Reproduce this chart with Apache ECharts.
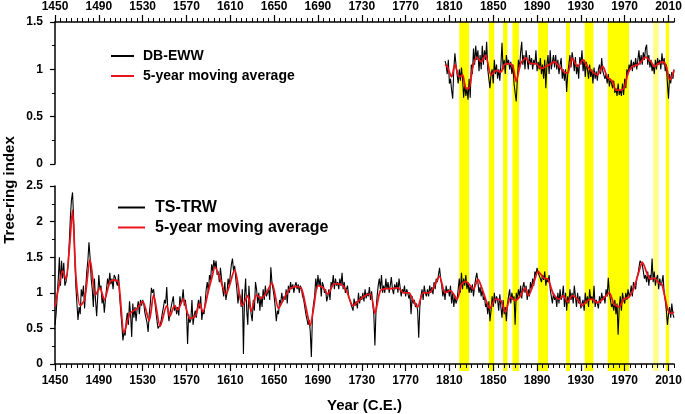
<!DOCTYPE html>
<html>
<head>
<meta charset="utf-8">
<title>Tree-ring index</title>
<script src="https://cdn.jsdelivr.net/npm/echarts@6/dist/echarts.min.js"></script>
<style>
html, body { margin: 0; padding: 0; background: #fff; }
#chart { width: 685px; height: 414px; }
</style>
</head>
<body>
<div id="chart"></div>
<script>
// x axis labels (years)
const labelYears = [1450, 1490, 1530, 1570, 1610, 1650, 1690, 1730, 1770, 1810, 1850, 1890, 1930, 1970, 2010];

// yellow bands (start / end year)
const bandStart = [1819, 1846, 1859, 1867.5, 1891, 1916.5, 1933.5, 1954.5, 1996, 2007.5];
const bandEnd   = [1828, 1851, 1863, 1873.5, 1900, 1920, 1941.5, 1974, 2001, 2010.5];

// DB-EWW, annual, 1806-2015
const ewwStart = 1806;
const ewwValues = [
  1.09, 1.05, 0.95, 1.10, 0.85, 0.90, 0.78, 0.69, 1.00, 1.17,
  1.05, 0.95, 0.85, 1.00, 0.88, 1.02, 0.90, 0.70, 0.85, 0.72,
  0.80, 0.68, 0.90, 0.70, 1.05, 0.95, 1.22, 1.05, 1.25, 1.10,
  1.20, 0.98, 1.15, 1.00, 1.25, 1.05, 1.20, 1.10, 1.29, 1.00,
  0.90, 0.80, 0.95, 1.00, 0.85, 1.10, 0.95, 1.05, 0.90, 1.00,
  0.88, 1.05, 1.28, 1.00, 1.10, 0.95, 1.15, 1.05, 1.10, 1.00,
  1.08, 0.95, 1.05, 0.85, 0.75, 0.66, 0.90, 1.10, 1.00, 1.18,
  1.29, 1.05, 1.15, 1.00, 1.20, 1.10, 1.00, 1.15, 1.05, 1.12,
  1.00, 1.10, 1.05, 1.20, 0.98, 1.08, 1.00, 1.12, 0.95, 1.05,
  0.90, 1.10, 0.80, 1.05, 1.15, 0.95, 1.20, 1.00, 1.08, 1.15,
  1.02, 1.15, 1.00, 1.10, 0.95, 1.05, 1.12, 0.90, 1.00, 0.88,
  1.00, 0.76, 0.95, 1.05, 1.15, 1.02, 1.18, 1.10, 0.98, 1.13,
  0.95, 1.05, 0.90, 1.13, 1.05, 1.20, 0.98, 1.10, 0.92, 1.08,
  1.00, 0.90, 1.05, 0.92, 1.00, 0.85, 1.02, 0.90, 0.98, 0.88,
  1.00, 1.05, 0.95, 1.12, 0.98, 1.00, 0.90, 0.95, 0.85, 0.95,
  0.82, 0.90, 0.85, 0.80, 0.88, 0.75, 0.80, 0.72, 0.85, 0.73,
  0.78, 0.72, 0.85, 0.73, 0.90, 0.80, 1.00, 0.95, 1.05, 1.00,
  1.10, 0.98, 1.08, 1.02, 1.12, 1.00, 1.10, 1.20, 1.05, 1.15,
  1.05, 1.18, 1.10, 1.22, 1.26, 1.05, 1.15, 1.02, 1.10, 0.98,
  1.05, 0.95, 1.10, 1.00, 1.12, 1.05, 1.10, 1.00, 1.17, 1.05,
  1.12, 0.98, 1.05, 0.85, 0.69, 0.95, 0.85, 0.97, 0.90, 1.00
];

// DB-EWW 5-year moving average, read at turning points
const ewwAvgYears = [1806, 1808, 1812, 1815, 1819, 1822, 1825, 1828, 1831, 1835, 1839, 1843, 1848, 1853, 1857, 1860, 1865, 1868, 1871, 1875,
  1880, 1884, 1889, 1894, 1898, 1903, 1906, 1910, 1915, 1918, 1922, 1927, 1932, 1936, 1941, 1945, 1950, 1954, 1959, 1962,
  1967, 1970, 1973, 1977, 1982, 1985, 1989, 1994, 1997, 2001, 2005, 2008, 2011, 2013, 2015];
const ewwAvgValues = [1.05, 1.03, 0.92, 1.05, 0.92, 0.94, 0.80, 0.80, 1.01, 1.13, 1.08, 1.15, 0.94, 0.99, 0.97, 1.05, 1.06, 1.03, 0.87, 1.06,
  1.12, 1.06, 1.06, 1.01, 1.03, 1.06, 1.08, 1.03, 0.97, 0.96, 1.12, 1.03, 1.10, 1.03, 0.97, 0.94, 1.03, 0.92, 0.87, 0.78,
  0.78, 0.82, 0.96, 1.03, 1.05, 1.08, 1.13, 1.08, 1.03, 1.06, 1.08, 1.03, 0.89, 0.92, 0.99];

// TS-TRW, annual, 1450-2015
const trwStart = 1450;
const trwValues = [
  0.55, 0.70, 0.95, 1.20, 1.50, 1.10, 1.45, 1.20, 1.42, 1.10,
  1.15, 1.25, 1.40, 1.70, 2.05, 2.30, 2.41, 2.05, 1.55, 1.10,
  0.85, 0.62, 0.80, 0.70, 1.05, 0.95, 1.10, 0.78, 1.05, 1.30,
  1.45, 1.71, 1.50, 1.20, 1.05, 0.80, 1.20, 0.90, 0.67, 0.95,
  1.25, 1.05, 1.10, 0.85, 0.95, 0.72, 0.90, 1.05, 1.20, 1.10,
  1.28, 1.12, 1.20, 1.05, 1.25, 1.22, 1.15, 1.10, 1.26, 0.95,
  0.75, 0.55, 0.33, 0.45, 0.40, 0.60, 0.72, 0.55, 0.88, 0.70,
  0.38, 0.85, 0.65, 0.80, 0.60, 0.78, 0.88, 0.70, 0.90, 0.82,
  0.90, 0.85, 0.72, 0.65, 0.58, 0.45, 0.70, 0.85, 1.07, 1.00,
  1.05, 0.90, 0.75, 0.62, 0.50, 0.48, 0.55, 0.62, 0.72, 0.80,
  0.90, 0.85, 1.08, 0.75, 0.60, 0.72, 0.70, 0.88, 0.95, 0.75,
  0.82, 0.70, 0.80, 0.68, 0.95, 0.85, 0.90, 1.05, 0.82, 0.90,
  0.75, 0.28, 0.70, 0.58, 0.62, 0.90, 0.55, 0.68, 0.75, 0.65,
  0.80, 0.90, 0.78, 0.95, 0.62, 0.75, 0.70, 0.85, 1.05, 1.15,
  1.00, 1.25, 1.18, 1.40, 1.30, 1.46, 1.35, 1.45, 1.25, 1.30,
  1.15, 1.35, 1.20, 1.05, 0.95, 1.15, 0.90, 1.00, 1.20, 1.10,
  1.25, 1.40, 1.48, 1.30, 1.38, 1.20, 1.05, 0.85, 1.00, 0.95,
  0.80, 1.05, 0.14, 0.95, 1.20, 0.75, 0.55, 1.10, 0.85, 0.70,
  0.60, 0.90, 0.75, 1.15, 1.05, 0.85, 1.00, 0.75, 0.95, 0.80,
  1.05, 0.90, 1.10, 0.95, 1.00, 1.05, 0.90, 1.36, 1.15, 1.05,
  0.95, 0.80, 0.60, 0.75, 0.70, 0.90, 0.85, 1.00, 0.88, 0.95,
  0.90, 1.05, 0.85, 1.10, 1.00, 1.15, 1.05, 1.12, 1.00, 1.10,
  1.15, 1.05, 1.12, 1.00, 1.10, 1.05, 0.95, 0.90, 0.80, 0.70,
  0.72, 0.55, 0.62, 0.45, 0.10, 0.70, 0.85, 0.95, 1.20, 1.05,
  1.25, 1.10, 1.20, 0.95, 1.15, 1.10, 1.00, 1.05, 0.88, 0.95,
  1.05, 0.90, 1.15, 1.10, 1.25, 1.05, 1.20, 1.10, 1.15, 1.05,
  1.20, 1.10, 1.28, 1.05, 1.15, 1.00, 1.05, 1.10, 0.95, 0.90,
  0.85, 0.80, 0.75, 0.92, 0.82, 0.88, 0.78, 1.00, 0.85, 0.95,
  0.90, 1.00, 0.88, 1.05, 0.92, 1.00, 0.95, 1.08, 0.90, 1.02,
  0.85, 0.70, 0.26, 0.75, 0.95, 1.10, 1.20, 1.05, 1.25, 1.00,
  1.10, 1.00, 1.20, 1.05, 1.15, 1.00, 1.10, 1.22, 1.05, 0.98,
  1.12, 1.05, 1.15, 1.00, 1.20, 1.08, 0.95, 1.05, 1.00, 1.10,
  0.95, 1.05, 1.00, 0.92, 0.98, 0.70, 0.95, 0.85, 0.90, 0.80,
  0.85, 0.75, 0.37, 0.80, 0.95, 1.05, 0.90, 1.10, 1.00, 0.95,
  1.05, 0.95, 1.10, 1.00, 1.08, 0.98, 1.15, 1.05, 1.20, 1.15,
  1.25, 1.35, 1.20, 1.10, 0.95, 1.05, 0.90, 1.10, 1.00, 1.05,
  0.95, 1.10, 0.85, 1.00, 0.80, 0.95, 0.85, 0.90, 1.05, 1.20,
  1.00, 1.28, 1.05, 1.20, 1.10, 1.25, 1.05, 1.15, 1.00, 1.10,
  1.00, 1.12, 0.95, 1.10, 1.20, 1.28, 1.15, 1.00, 1.08, 0.95,
  1.05, 0.90, 0.95, 0.80, 0.85, 0.70, 0.88, 0.60, 0.75, 0.95,
  0.80, 1.00, 0.85, 0.95, 0.90, 0.75, 0.98, 0.80, 0.65, 0.90,
  0.70, 0.80, 0.60, 0.85, 0.95, 1.05, 0.85, 1.00, 0.90, 0.95,
  0.55, 1.00, 0.90, 1.05, 0.95, 1.10, 0.92, 1.08, 1.15, 1.00,
  1.10, 0.90, 1.05, 0.95, 1.15, 1.05, 1.20, 1.10, 1.30, 1.25,
  1.35, 1.28, 1.30, 1.20, 1.15, 1.25, 1.18, 1.30, 1.10, 1.20,
  1.15, 1.25, 1.05, 0.95, 0.85, 1.00, 0.90, 0.95, 0.80, 1.00,
  0.85, 1.05, 0.90, 0.95, 1.10, 0.80, 1.00, 0.75, 0.95, 0.85,
  1.05, 0.90, 1.00, 0.85, 1.10, 0.95, 0.80, 1.00, 0.85, 0.95,
  0.78, 0.85, 0.90, 0.75, 1.00, 0.85, 0.95, 0.80, 1.05, 0.90,
  0.95, 0.85, 1.10, 0.80, 0.90, 0.85, 0.78, 0.95, 0.85, 1.00,
  0.90, 0.95, 0.85, 1.05, 0.95, 1.21, 1.00, 0.90, 0.80, 0.85,
  0.75, 0.90, 0.70, 0.85, 0.41, 0.80, 0.95, 0.75, 1.00, 0.90,
  0.85, 1.00, 0.90, 1.05, 0.95, 1.00, 1.10, 0.95, 1.15, 1.10,
  1.05, 1.20, 1.25, 1.35, 1.45, 1.47, 1.40, 1.30, 1.20, 1.25,
  1.15, 1.30, 1.10, 1.25, 1.20, 1.48, 1.15, 1.30, 1.10, 1.20,
  1.25, 1.05, 1.20, 1.10, 1.15, 1.25, 1.00, 0.90, 0.75, 0.55,
  0.70, 0.80, 0.65, 0.85, 0.70, 0.65
];

// TS-TRW 5-year moving average, read at turning points
const trwAvgYears = [1450, 1453, 1457, 1460, 1463, 1466, 1469, 1473, 1477, 1482, 1487, 1491, 1495, 1500, 1504, 1508, 1513, 1518, 1521, 1525,
  1530, 1536, 1540, 1546, 1552, 1555, 1559, 1562, 1567, 1573, 1578, 1582, 1585, 1590, 1593, 1596, 1600, 1606, 1614, 1621,
  1626, 1629, 1634, 1638, 1643, 1648, 1654, 1658, 1664, 1670, 1675, 1679, 1683, 1686, 1690, 1695, 1699, 1705, 1711, 1716,
  1722, 1728, 1733, 1738, 1742, 1747, 1753, 1758, 1763, 1768, 1773, 1777, 1781, 1786, 1791, 1795, 1801, 1806, 1811, 1817,
  1821, 1825, 1828, 1832, 1836, 1840, 1844, 1847, 1852, 1857, 1861, 1866, 1870, 1875, 1879, 1882, 1887, 1891, 1896, 1900,
  1905, 1910, 1914, 1918, 1922, 1927, 1931, 1936, 1940, 1945, 1950, 1956, 1960, 1965, 1969, 1974, 1978, 1983, 1986, 1991,
  1994, 1997, 2001, 2004, 2009, 2012, 2015];
const trwAvgValues = [0.81, 1.05, 1.31, 1.19, 1.60, 2.16, 1.25, 0.82, 0.90, 1.47, 0.97, 1.07, 0.90, 1.15, 1.18, 1.15, 0.44, 0.70, 0.74, 0.78,
  0.88, 0.61, 0.97, 0.53, 0.82, 0.67, 0.82, 0.76, 0.91, 0.64, 0.67, 0.85, 0.73, 1.03, 1.20, 1.36, 1.23, 0.98, 1.32, 0.82,
  0.96, 0.74, 0.97, 0.92, 1.00, 1.14, 0.78, 0.89, 1.05, 1.09, 1.06, 0.80, 0.54, 0.78, 1.10, 1.07, 0.98, 1.13, 1.12, 1.03,
  0.82, 0.90, 0.96, 0.98, 0.71, 1.03, 1.06, 1.06, 1.07, 1.00, 1.00, 0.89, 0.80, 1.00, 1.00, 1.06, 1.23, 1.00, 1.03, 0.91,
  1.12, 1.16, 1.12, 1.05, 1.19, 1.05, 0.87, 0.78, 0.91, 0.89, 0.73, 0.94, 0.89, 0.96, 1.07, 0.96, 1.14, 1.30, 1.21, 1.19,
  0.98, 0.91, 0.96, 0.87, 0.96, 0.91, 0.82, 0.89, 0.91, 0.86, 0.91, 1.00, 0.85, 0.80, 0.91, 0.94, 1.05, 1.30, 1.43, 1.25,
  1.19, 1.21, 1.14, 1.12, 0.78, 0.71, 0.73];

const FONT = '"Liberation Sans", Arial, sans-serif';
const xMin = 1450, xMax = 2015;
const LIGHT_BAND = 8;

const minorYears = [];
for (let y = xMin; y <= xMax; y += 5) minorYears.push(y);

function byYear(start, values) {
  return values.map((v, i) => [start + i, v]);
}
function pairs(xs, ys) {
  return xs.map((x, i) => [x, ys[i]]);
}

const labelStyle = { color: '#000', fontWeight: 'bold', fontSize: 12, fontFamily: FONT };

function xAxisMain(gridIndex, position, margin) {
  return {
    type: 'value', gridIndex: gridIndex, position: position, min: xMin, max: xMax,
    axisLine: { show: true, onZero: false, lineStyle: { color: '#000', width: 1.5 } },
    axisTick: { show: true, customValues: minorYears, length: 4, lineStyle: { color: '#000', width: 1 } },
    axisLabel: Object.assign({ customValues: labelYears, margin: margin, formatter: v => String(v) }, labelStyle),
    splitLine: { show: false }
  };
}
function xAxisMajor(gridIndex, position) {
  return {
    type: 'value', gridIndex: gridIndex, position: position, min: xMin, max: xMax,
    axisLine: { show: false, onZero: false },
    axisTick: { show: true, customValues: labelYears, length: 7, lineStyle: { color: '#000', width: 1.2 } },
    axisLabel: { show: false },
    splitLine: { show: false }
  };
}
function yAxisMain(gridIndex, max) {
  return {
    type: 'value', gridIndex: gridIndex, min: 0, max: max, interval: 0.5,
    axisLine: { show: true, onZero: false, lineStyle: { color: '#000', width: 1.5 } },
    axisTick: { show: true, length: 5, lineStyle: { color: '#000', width: 1.2 } },
    minorTick: { show: true, splitNumber: 2, length: 3, lineStyle: { color: '#000', width: 1 } },
    axisLabel: Object.assign({ margin: 12 }, labelStyle),
    splitLine: { show: false },
    minorSplitLine: { show: false }
  };
}

const chart = echarts.init(document.getElementById('chart'));

const option = {
  animation: false,
  backgroundColor: '#fff',
  grid: [
    { left: 55, right: 11, top: 22, height: 142 },
    { left: 55, right: 11, top: 186, height: 185 },
    { left: 55, right: 11, top: 22, height: 349 }
  ],
  xAxis: [
    xAxisMain(0, 'top', 9),
    xAxisMajor(0, 'top'),
    Object.assign(xAxisMain(1, 'bottom', 11), {
      name: 'Year (C.E.)', nameLocation: 'middle', nameGap: 34,
      nameTextStyle: { color: '#000', fontWeight: 'bold', fontSize: 15, fontFamily: FONT }
    }),
    xAxisMajor(1, 'bottom'),
    { type: 'value', gridIndex: 2, min: xMin, max: xMax, show: false }
  ],
  yAxis: [
    yAxisMain(0, 1.5),
    yAxisMain(1, 2.5),
    { type: 'value', gridIndex: 2, min: 0, max: 1, show: false }
  ],
  legend: [
    {
      data: ['DB-EWW', '5-year moving average'],
      orient: 'vertical', left: 106, top: 43,
      icon: 'rect', itemWidth: 23, itemHeight: 2, itemGap: 4,
      selectedMode: false,
      textStyle: { color: '#000', fontWeight: 'bold', fontSize: 14, fontFamily: FONT, lineHeight: 16, padding: [0, 0, 0, 4] }
    },
    {
      data: ['TS-TRW', '5-year moving average'],
      orient: 'vertical', left: 113, top: 194,
      icon: 'rect', itemWidth: 27, itemHeight: 2, itemGap: 3,
      selectedMode: false,
      textStyle: { color: '#000', fontWeight: 'bold', fontSize: 16, fontFamily: FONT, lineHeight: 17, padding: [0, 0, 0, 5] }
    }
  ],
  graphic: [
    {
      type: 'text', x: 10, y: 190, rotation: Math.PI / 2,
      style: {
        text: 'Tree-ring index', fill: '#000',
        font: 'bold 15px "Liberation Sans", Arial, sans-serif',
        textAlign: 'center', textVerticalAlign: 'middle'
      }
    }
  ],
  series: [
    {
      type: 'custom', name: 'bands', xAxisIndex: 4, yAxisIndex: 2, z: 0, silent: true,
      data: pairs(bandStart, bandEnd),
      encode: { x: [0, 1] },
      renderItem: function (params, api) {
        const tl = api.coord([api.value(0), 1]);
        const br = api.coord([api.value(1), 0]);
        return {
          type: 'rect',
          shape: { x: tl[0], y: tl[1], width: br[0] - tl[0], height: br[1] - tl[1] },
          style: { fill: params.dataIndex === LIGHT_BAND ? '#ffff88' : '#ffff00' }
        };
      }
    },
    {
      type: 'line', name: 'DB-EWW', xAxisIndex: 0, yAxisIndex: 0, z: 3,
      data: byYear(ewwStart, ewwValues), showSymbol: false, symbol: 'none',
      color: '#000', lineStyle: { color: '#000', width: 1.1 }
    },
    {
      type: 'line', name: '5-year moving average', xAxisIndex: 0, yAxisIndex: 0, z: 4,
      data: pairs(ewwAvgYears, ewwAvgValues), showSymbol: false, symbol: 'none', smooth: 0.25,
      color: '#e8141b', lineStyle: { color: '#e8141b', width: 1.8 }
    },
    {
      type: 'line', name: 'TS-TRW', xAxisIndex: 2, yAxisIndex: 1, z: 3,
      data: byYear(trwStart, trwValues), showSymbol: false, symbol: 'none',
      color: '#000', lineStyle: { color: '#000', width: 1.1 }
    },
    {
      type: 'line', name: '5-year moving average', xAxisIndex: 2, yAxisIndex: 1, z: 4,
      data: pairs(trwAvgYears, trwAvgValues), showSymbol: false, symbol: 'none', smooth: 0.25,
      color: '#e8141b', lineStyle: { color: '#e8141b', width: 1.8 }
    }
  ]
};

chart.setOption(option);
</script>
</body>
</html>
